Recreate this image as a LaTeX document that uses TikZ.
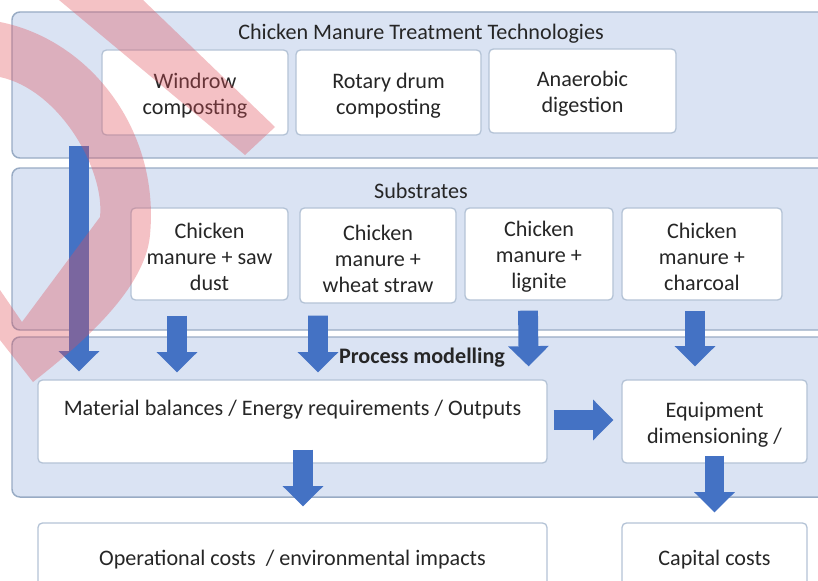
\documentclass[tikz,border=0pt]{standalone}
\usepackage{fontspec}
\setmainfont{Carlito}
\usepackage{xcolor}
\usetikzlibrary{arrows.meta}
\definecolor{panelblue}{HTML}{DAE3F3}
\definecolor{panelline}{HTML}{98ABC4}
\definecolor{boxline}{HTML}{B4C3D6}
\definecolor{arrowblue}{HTML}{4472C4}
\definecolor{wmred}{HTML}{E0505A}
\tikzset{
  panel/.style={draw=panelline, line width=0.85pt, fill=panelblue, rounded corners=4.5pt, inner sep=0pt},
  box/.style={draw=boxline, line width=0.75pt, fill=white, rounded corners=2.5pt, align=center, inner sep=0pt,
    font=\fontsize{12.6}{14.8}\selectfont, text=black!85},
  paneltitle/.style={font=\fontsize{12.6}{14.8}\selectfont, text=black!85, inner sep=0pt},
  blockarrow/.style={arrowblue, line width=11.3pt, -{Triangle[width=23.2pt,length=11.5pt,line width=0pt]}},
  wmark/.style={fill=wmred, fill opacity=0.35}
}

\begin{document}
\begin{tikzpicture}[x=0.02cm, y=-0.02cm]

      \def\u{0.02cm}

      \useasboundingbox (0,0) rectangle (818,581);
      \clip (0,0) rectangle (818,581);

      \foreach \name/\cy/\h in {techpanel/85/146, subspanel/249/162, procpanel/417/160}{
        \node[panel, minimum width=818*\u, minimum height=\h*\u] (\name) at (421,\cy) {};
      }

      \node[paneltitle] (techtitle) at (421,34) {Chicken Manure Treatment Technologies};
      \node[paneltitle] (substitle) at (421,191) {Substrates};
      \node[paneltitle, font=\fontsize{12.6}{14.8}\selectfont\bfseries] (proctitle) at (422,358) {Process modelling};

      \foreach \name/\cx/\cy/\w/\h/\txt in {
        windrow/195/92.5/186/85/{Windrow\\composting},
        rotary/388.5/92.5/185/85/{Rotary drum\\composting},
        anaerobic/582.5/91/187/84/{Anaerobic\\digestion},
        sawdust/209.5/254/157/92/{Chicken\\manure + saw\\dust},
        wheat/378/255.5/156/95/{Chicken\\manure +\\wheat straw},
        lignite/539/254/148/92/{Chicken\\manure +\\lignite},
        charcoal/702/254/160/92/{Chicken\\manure +\\charcoal},
        material/292.5/421.5/509/83/{Material balances / Energy requirements / Outputs\\\strut},
        equipment/714.5/421.5/185/83/{Equipment\\dimensioning /},
        operational/292.5/556/509/66/{Operational costs~ / environmental impacts},
        capital/714.5/556/185/66/{Capital costs}}{
        \node[box, minimum width=\w*\u, minimum height=\h*\u] (\name) at (\cx,\cy) {\rule{0pt}{12.3pt}\txt};
      }

      \foreach \from/\fx/\fy/\to/\tx/\ty in {
        windrow.south/-116/10/material.north/-213.5/-8,
        sawdust.south/-32.5/15/material.north/-115.5/-7,
        wheat.south/-60/12/material.north/25.5/-7,
        lignite.south/-11/10/material.north east/-19/-13,
        charcoal.south/-7/10/equipment.north/-19.5/-13,
        material.south/10.5/-14/operational.north/10.5/-16,
        equipment.south/0/-8/capital.north/0/-10,
        material.east/6/-1.5/equipment.west/-8/-1.5}{
        \draw[blockarrow] ([shift={(\fx,\fy)}]\from) -- ([shift={(\tx,\ty)}]\to);
      }

      \fill[wmark] (0,22) .. controls (90,40) and (160,130) .. (150,235)
        .. controls (145,290) and (80,345) .. (33,382) -- (0,340) -- (0,290) -- (22,322)
        -- (100,217) .. controls (105,170) and (60,90) .. (0,77) -- cycle;
      \fill[wmark] (59,0) -- (143,0) -- (275,127) -- (245,155) -- cycle;

    \end{tikzpicture}
\end{document}
